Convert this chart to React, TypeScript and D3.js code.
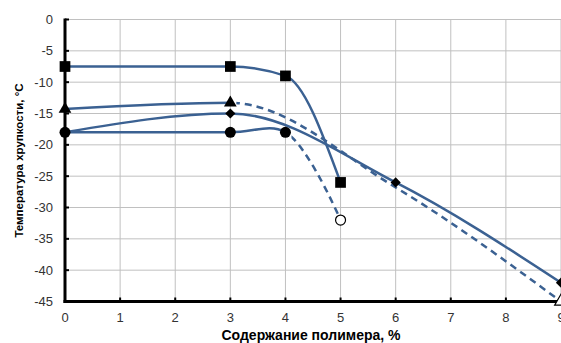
import React, { useEffect, useRef } from 'react';
import * as d3 from 'd3';

interface Pt { x: number; y: number; }

// series
const squareX = [0, 3, 4, 5];
const squareY = [-7.5, -7.5, -9, -26];

const triangleX = [0, 3, 6, 9];
const triangleY = [-14.3, -13.3, -26.8, -45];

const diamondX = [0, 3, 6, 9];
const diamondY = [-18, -15, -26, -42];

const circleX = [0, 3, 4, 5];
const circleY = [-18, -18, -18, -32];

const xTicks = [0, 1, 2, 3, 4, 5, 6, 7, 8, 9];
const yTicks = [0, -5, -10, -15, -20, -25, -30, -35, -40, -45];

const LINE = '#3b6192';
const FONT = '"Liberation Sans", Arial, sans-serif';

const zip = (xs: number[], ys: number[]): Pt[] => xs.map((x, i) => ({ x, y: ys[i] }));

export default function App() {
  const svgRef = useRef<SVGSVGElement>(null);

  useEffect(() => {
    if (!svgRef.current) return;
    const svg = d3.select(svgRef.current);
    svg.selectAll('*').remove();

    const width = 561;
    const height = 343;
    const left = 65, right = 561, top = 19.5, bottom = 301.5;

    const x = d3.scaleLinear().domain([0, 9]).range([left, right]);
    const y = d3.scaleLinear().domain([-45, 0]).range([bottom, top]);

    svg.attr('width', width).attr('height', height);

    // grid
    const grid = svg.append('g');
    grid.selectAll('line.v').data(xTicks).enter().append('line')
      .attr('x1', d => x(d)).attr('x2', d => x(d))
      .attr('y1', top).attr('y2', bottom)
      .attr('stroke', '#c0c0c0').attr('stroke-width', 1);
    grid.selectAll('line.h').data(yTicks).enter().append('line')
      .attr('x1', left).attr('x2', right)
      .attr('y1', d => y(d)).attr('y2', d => y(d))
      .attr('stroke', '#c0c0c0').attr('stroke-width', 1);

    // clip regions for solid / dashed parts
    const defs = svg.append('defs');
    const addClip = (id: string, x0: number, x1: number) => {
      defs.append('clipPath').attr('id', id).append('rect')
        .attr('x', x0).attr('y', 0).attr('width', x1 - x0).attr('height', height);
    };

    const drawSeries = (
      pts: Pt[], curve: d3.CurveFactory, split: number | null, id: string
    ) => {
      const line = d3.line<Pt>().x(d => x(d.x)).y(d => y(d.y)).curve(curve);
      if (split === null) {
        svg.append('path').datum(pts).attr('d', line)
          .attr('fill', 'none').attr('stroke', LINE).attr('stroke-width', 2.5);
        return;
      }
      addClip(`${id}-a`, 0, x(split));
      addClip(`${id}-b`, x(split) + 6, width);
      // same curve twice, clipped into a solid and a dashed part
      svg.append('path').datum(pts).attr('d', line)
        .attr('clip-path', `url(#${id}-a)`)
        .attr('fill', 'none').attr('stroke', LINE).attr('stroke-width', 2.5);
      svg.append('path').datum(pts).attr('d', line)
        .attr('clip-path', `url(#${id}-b)`)
        .attr('fill', 'none').attr('stroke', LINE).attr('stroke-width', 2.5)
        .attr('stroke-dasharray', '7,5');
    };

    const squares = zip(squareX, squareY);
    const triangles = zip(triangleX, triangleY);
    const diamonds = zip(diamondX, diamondY);
    const circles = zip(circleX, circleY);

    drawSeries(diamonds, d3.curveMonotoneX, null, 'dia');
    drawSeries(triangles, d3.curveMonotoneX, 3, 'tri');
    drawSeries(circles, d3.curveCatmullRom.alpha(0.5), 4, 'cir');
    drawSeries(squares, d3.curveMonotoneX, null, 'sq');

    // axes
    svg.append('line').attr('x1', left).attr('x2', left)
      .attr('y1', top - 1).attr('y2', bottom + 1.5)
      .attr('stroke', '#000').attr('stroke-width', 3);
    svg.append('line').attr('x1', left - 1.5).attr('x2', right)
      .attr('y1', bottom).attr('y2', bottom)
      .attr('stroke', '#000').attr('stroke-width', 3);
    svg.append('g').selectAll('line').data(yTicks).enter().append('line')
      .attr('x1', left).attr('x2', left + 4)
      .attr('y1', d => y(d)).attr('y2', d => y(d))
      .attr('stroke', '#000').attr('stroke-width', 2);
    svg.append('g').selectAll('line').data(xTicks).enter().append('line')
      .attr('x1', d => x(d)).attr('x2', d => x(d))
      .attr('y1', bottom).attr('y2', bottom - 4)
      .attr('stroke', '#000').attr('stroke-width', 2);

    // markers
    const sym = (type: d3.SymbolType, size: number) => d3.symbol().type(type).size(size)();
    const marks = svg.append('g');
    marks.selectAll('path.sq').data(squares).enter().append('path')
      .attr('d', sym(d3.symbolSquare, 115))
      .attr('transform', d => `translate(${x(d.x)},${y(d.y)})`)
      .attr('fill', '#000');
    marks.selectAll('path.tri').data(triangles.filter(d => d.x <= 3)).enter().append('path')
      .attr('d', sym(d3.symbolTriangle, 70))
      .attr('transform', d => `translate(${x(d.x)},${y(d.y)})`)
      .attr('fill', '#000');
    marks.selectAll('path.tri2').data(triangles.filter(d => d.x === 9)).enter().append('path')
      .attr('d', sym(d3.symbolTriangle, 70))
      .attr('transform', d => `translate(${x(d.x)},${y(d.y)})`)
      .attr('fill', '#fff').attr('stroke', '#000').attr('stroke-width', 1.2);
    marks.selectAll('path.dia').data(diamonds).enter().append('path')
      .attr('d', sym(d3.symbolSquare, 52))
      .attr('transform', d => `translate(${x(d.x)},${y(d.y)}) rotate(45)`)
      .attr('fill', '#000');
    marks.selectAll('circle.c').data(circles.filter(d => d.x <= 4)).enter().append('circle')
      .attr('cx', d => x(d.x)).attr('cy', d => y(d.y)).attr('r', 5.5)
      .attr('fill', '#000');
    marks.selectAll('circle.o').data(circles.filter(d => d.x > 4)).enter().append('circle')
      .attr('cx', d => x(d.x)).attr('cy', d => y(d.y)).attr('r', 5)
      .attr('fill', '#fff').attr('stroke', '#000').attr('stroke-width', 1.2);

    // tick labels
    svg.append('g').selectAll('text').data(yTicks).enter().append('text')
      .attr('x', 53).attr('y', d => y(d)).attr('dy', '0.35em')
      .attr('text-anchor', 'end')
      .attr('font-family', FONT).attr('font-size', 13).attr('fill', '#333')
      .text(d => String(d));
    svg.append('g').selectAll('text').data(xTicks).enter().append('text')
      .attr('x', d => x(d)).attr('y', 322)
      .attr('text-anchor', 'middle')
      .attr('font-family', FONT).attr('font-size', 13).attr('fill', '#333')
      .text(d => String(d));

    // titles
    svg.append('text')
      .attr('x', 311).attr('y', 340)
      .attr('text-anchor', 'middle')
      .attr('font-family', FONT).attr('font-size', 14).attr('font-weight', 'bold')
      .attr('fill', '#000')
      .text('Содержание полимера, %');
    svg.append('text')
      .attr('transform', `translate(23,${(top + bottom) / 2}) rotate(-90)`)
      .attr('text-anchor', 'middle')
      .attr('font-family', FONT).attr('font-size', 11.5).attr('font-weight', 'bold')
      .attr('fill', '#000')
      .text('Температура хрупкости, °С');
  }, []);

  return (
    <svg ref={svgRef} style={{ position: 'absolute', left: 0, top: 0, background: '#fff' }} />
  );
}
